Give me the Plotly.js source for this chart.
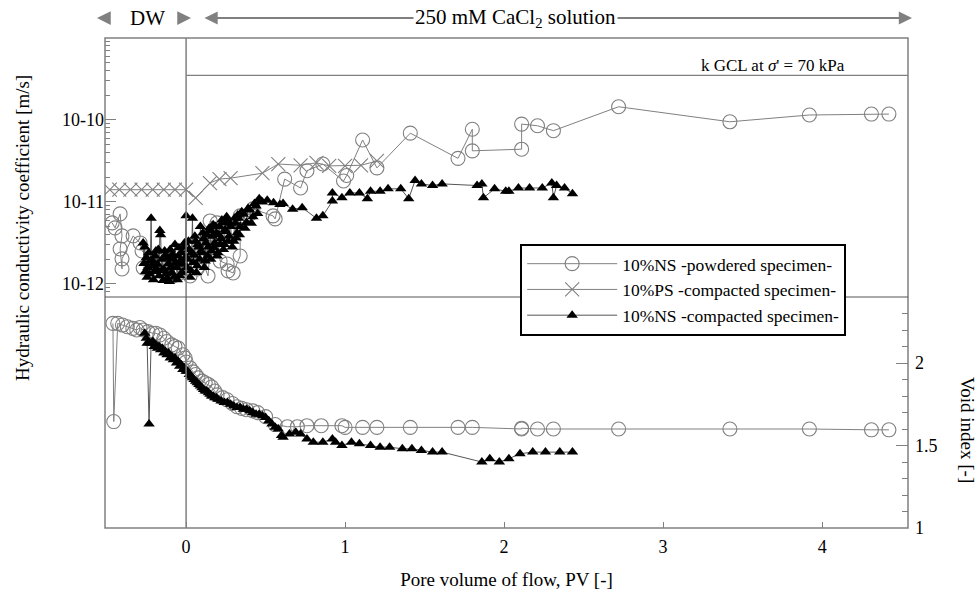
<!DOCTYPE html>
<html>
<head>
<meta charset="utf-8">
<script src="https://cdn.plot.ly/plotly-3.0.1.min.js"></script>
<style>html,body{margin:0;padding:0;background:#fff}#chart{width:979px;height:596px}</style>
</head>
<body>
<div id="chart"></div>
<script>
// ---- Data ----
const seriesNames = ["10%NS -powdered specimen-", "10%PS -compacted specimen-", "10%NS -compacted specimen-"];

// 10%NS powdered: hydraulic conductivity [m/s]
const nsPowK_x = [-0.465,-0.447,-0.415,-0.403,-0.415,-0.403,-0.403,-0.333,-0.289,-0.277,-0.226,-0.270,-0.208,-0.132,-0.082,-0.050,0.025,0.069,0.088,0.088,0.138,0.151,0.151,0.195,0.214,0.258,0.264,0.296,0.340,0.340,0.403,0.421,0.547,0.560,0.62,0.72,0.76,0.86,0.99,1.01,1.11,1.20,1.41,1.71,1.80,1.80,2.11,2.11,2.21,2.31,2.72,3.42,3.92,4.31,4.42];
const nsPowK_y = [5.55e-12,4.82e-12,7.14e-12,3.85e-12,2.67e-12,1.52e-12,2.02e-12,3.85e-12,3.16e-12,2.52e-12,2.02e-12,1.57e-12,1.66e-12,1.32e-12,1.25e-12,1.32e-12,1.25e-12,1.52e-12,1.90e-12,2.32e-12,1.25e-12,2.75e-12,5.86e-12,5.55e-12,1.90e-12,1.75e-12,1.44e-12,1.36e-12,2.19e-12,6.75e-12,7.14e-12,8.22e-12,6.75e-12,6.21e-12,1.9e-11,1.48e-11,2.4e-11,2.9e-11,1.8e-11,2.1e-11,5.7e-11,2.6e-11,6.9e-11,3.4e-11,7.7e-11,4.2e-11,4.4e-11,8.9e-11,8.5e-11,7.4e-11,1.45e-10,9.5e-11,1.15e-10,1.18e-10,1.18e-10];

// 10%PS compacted: hydraulic conductivity [m/s]
const psK_x = [-0.48,-0.42,-0.35,-0.28,-0.21,-0.14,-0.07,0.0,0.06,0.15,0.21,0.28,0.48,0.58,0.72,0.82,0.90,1.00,1.10,1.20];
const psK_y = [1.41e-11,1.41e-11,1.41e-11,1.41e-11,1.41e-11,1.41e-11,1.41e-11,1.41e-11,1.12e-11,1.7e-11,1.9e-11,1.95e-11,2.24e-11,2.9e-11,2.8e-11,3.0e-11,2.75e-11,2.75e-11,2.8e-11,3.16e-11];

// 10%NS compacted: hydraulic conductivity (log10 of m/s)
const nsComK_x = [-0.27,-0.265,-0.26,-0.255,-0.25,-0.245,-0.24,-0.235,-0.23,-0.225,-0.22,-0.215,-0.21,-0.205,-0.20,-0.195,-0.19,-0.185,-0.18,-0.175,-0.17,-0.165,-0.16,-0.155,-0.15,-0.145,-0.14,-0.135,-0.13,-0.125,-0.12,-0.115,-0.11,-0.105,-0.10,-0.095,-0.09,-0.085,-0.08,-0.075,-0.07,-0.065,-0.06,-0.055,-0.05,-0.045,-0.04,-0.035,-0.03,-0.025,-0.02,-0.015,-0.01,-0.005,0.00,0.005,0.01,0.015,0.02,0.025,0.03,0.035,0.04,0.045,0.05,0.055,0.06,0.065,0.07,0.075,0.08,0.085,0.09,0.095,0.10,0.105,0.11,0.115,0.12,0.125,0.13,0.135,0.14,0.145,0.15,0.155,0.16,0.165,0.17,0.175,0.18,0.185,0.19,0.195,0.20,0.205,0.21,0.215,0.22,0.225,0.23,0.235,0.24,0.245,0.25,0.255,0.26,0.265,0.27,0.275,0.28,0.29,0.30,0.305,0.31,0.315,0.32,0.325,0.33,0.335,0.34,0.35,0.36,0.37,0.38,0.39,0.40,0.41,0.42,0.43,0.44,0.45,0.46,0.47,0.48,0.51,0.55,0.59,0.61,0.67,0.73,0.82,0.86,0.92,0.92,0.98,1.03,1.09,1.14,1.16,1.22,1.27,1.35,1.40,1.44,1.48,1.55,1.61,1.83,1.86,1.87,1.94,2.01,2.03,2.09,2.16,2.24,2.30,2.31,2.33,2.38,2.43];
const nsComK_log = [-11.50,-11.75,-11.55,-11.85,-11.68,-11.92,-11.80,-11.62,-11.88,-11.72,-11.20,-11.78,-11.72,-11.95,-11.85,-11.66,-11.60,-11.82,-11.76,-11.58,-11.90,-11.35,-11.40,-11.84,-11.70,-11.96,-11.82,-11.60,-11.65,-11.88,-11.93,-11.68,-11.75,-11.97,-11.58,-11.80,-11.86,-11.64,-11.70,-11.92,-11.52,-11.74,-11.80,-11.95,-11.66,-11.56,-11.90,-11.72,-11.62,-11.86,-11.76,-11.55,-11.50,-11.68,-11.17,-11.80,-11.70,-11.48,-11.58,-11.92,-11.84,-11.62,-11.20,-11.74,-11.65,-11.42,-11.48,-11.86,-11.78,-11.52,-11.55,-11.70,-11.30,-11.60,-11.62,-11.38,-11.45,-11.80,-11.72,-11.50,-11.40,-11.66,-11.55,-11.32,-11.35,-11.70,-11.60,-11.42,-11.28,-11.56,-11.50,-11.30,-11.38,-11.66,-11.62,-11.40,-11.30,-11.52,-11.45,-11.22,-11.25,-11.58,-11.52,-11.34,-11.36,-11.18,-11.22,-11.48,-11.42,-11.26,-11.30,-11.55,-11.48,-11.20,-11.26,-11.44,-11.38,-11.16,-11.20,-11.40,-11.30,-11.12,-11.15,-11.32,-11.25,-11.08,-11.10,-11.26,-11.18,-11.02,-11.05,-11.14,-10.96,-10.99,-11.00,-10.98,-11.01,-11.03,-11.02,-11.09,-11.07,-11.20,-11.17,-10.99,-10.89,-10.95,-10.89,-10.89,-10.96,-10.87,-10.87,-10.84,-10.84,-10.96,-10.74,-10.78,-10.80,-10.78,-10.80,-10.78,-10.95,-10.84,-10.87,-10.87,-10.83,-10.83,-10.83,-10.77,-10.95,-10.80,-10.83,-10.90];

// Void index [-]
const nsPowE_x = [-0.46,-0.455,-0.43,-0.40,-0.37,-0.335,-0.31,-0.29,-0.27,-0.24,-0.21,-0.19,-0.165,-0.14,-0.12,-0.09,-0.07,-0.05,-0.02,-0.006,0.0,0.025,0.044,0.06,0.075,0.10,0.12,0.14,0.16,0.18,0.195,0.23,0.258,0.29,0.32,0.35,0.38,0.42,0.45,0.50,0.56,0.637,0.70,0.76,0.85,0.98,1.0,1.11,1.20,1.41,1.71,1.80,2.11,2.11,2.21,2.31,2.72,3.42,3.92,4.31,4.42];
const nsPowE_y = [2.24,1.645,2.24,2.23,2.22,2.21,2.20,2.215,2.20,2.19,2.18,2.18,2.17,2.15,2.13,2.11,2.10,2.09,2.05,2.03,2.006,1.97,1.946,1.93,1.91,1.89,1.88,1.87,1.855,1.83,1.807,1.79,1.777,1.755,1.735,1.725,1.717,1.71,1.699,1.675,1.627,1.614,1.614,1.62,1.62,1.62,1.61,1.61,1.61,1.61,1.61,1.61,1.60,1.605,1.60,1.60,1.60,1.60,1.60,1.595,1.595];

const nsComE_x = [-0.26,-0.25,-0.245,-0.233,-0.22,-0.21,-0.20,-0.19,-0.18,-0.17,-0.16,-0.15,-0.14,-0.13,-0.12,-0.11,-0.10,-0.09,-0.08,-0.07,-0.06,-0.05,-0.04,-0.03,-0.02,-0.01,0.0,0.01,0.02,0.03,0.04,0.05,0.06,0.07,0.08,0.09,0.10,0.11,0.12,0.13,0.14,0.15,0.16,0.17,0.18,0.19,0.20,0.22,0.24,0.26,0.28,0.30,0.32,0.34,0.36,0.38,0.40,0.42,0.44,0.46,0.48,0.50,0.52,0.54,0.56,0.58,0.60,0.61,0.65,0.69,0.72,0.76,0.80,0.86,0.92,0.94,0.98,1.04,1.09,1.16,1.22,1.28,1.36,1.42,1.48,1.55,1.61,1.86,1.91,1.97,2.03,2.10,2.18,2.26,2.35,2.43];
const nsComE_y = [2.18,2.15,2.12,1.63,2.12,2.13,2.10,2.11,2.09,2.10,2.08,2.09,2.06,2.07,2.05,2.06,2.03,2.04,2.02,2.03,2.00,2.01,1.98,1.99,1.96,1.97,1.95,1.95,1.93,1.92,1.91,1.90,1.89,1.88,1.87,1.86,1.85,1.84,1.83,1.83,1.82,1.81,1.80,1.80,1.79,1.79,1.78,1.77,1.76,1.76,1.75,1.74,1.73,1.73,1.72,1.72,1.71,1.70,1.69,1.69,1.68,1.67,1.65,1.63,1.61,1.60,1.56,1.55,1.57,1.58,1.57,1.54,1.52,1.52,1.54,1.52,1.50,1.52,1.51,1.50,1.49,1.49,1.48,1.48,1.47,1.46,1.46,1.40,1.42,1.40,1.42,1.45,1.46,1.46,1.46,1.46];

const kGCL = 3.5e-10;
const xTicks = [0,1,2,3,4];
const kTickVals = [1e-12,1e-11,1e-10];
const kTickText = ["10-12","10-11","10-10"];
const eTickVals = [1,1.5,2];
const eTickText = ["1","1.5","2"];

// ---- Chart ----
const serif = "Liberation Serif";
const grey = "#808080";
const circleMarker = {symbol:"circle-open", size:14, color:grey, line:{width:1.1, color:grey}};
const crossMarker = {symbol:"x-thin-open", size:14, color:grey, line:{width:1.1, color:grey}};
const triMarker = {symbol:"triangle-up", size:10, color:"#000"};

const nsComK_y = nsComK_log.map(v => Math.pow(10, v));

const traces = [
  {x:nsPowK_x, y:nsPowK_y, xaxis:"x", yaxis:"y", mode:"lines+markers", name:seriesNames[0], legendgroup:"a",
   line:{color:grey, width:1}, marker:circleMarker},
  {x:psK_x, y:psK_y, xaxis:"x", yaxis:"y", mode:"lines+markers", name:seriesNames[1], legendgroup:"b",
   line:{color:grey, width:1}, marker:crossMarker},
  {x:nsComK_x, y:nsComK_y, xaxis:"x", yaxis:"y", mode:"lines+markers", name:seriesNames[2], legendgroup:"c",
   line:{color:"#555", width:1}, marker:triMarker},
  {x:nsPowE_x, y:nsPowE_y, xaxis:"x", yaxis:"y2", mode:"lines+markers", name:seriesNames[0], legendgroup:"a", showlegend:false,
   line:{color:grey, width:1}, marker:circleMarker},
  {x:nsComE_x, y:nsComE_y, xaxis:"x", yaxis:"y2", mode:"lines+markers", name:seriesNames[2], legendgroup:"c", showlegend:false,
   line:{color:"#555", width:1}, marker:triMarker},
  {x:[0, 4.54], y:[kGCL, kGCL], xaxis:"x", yaxis:"y", mode:"lines", showlegend:false, hoverinfo:"skip",
   line:{color:grey, width:1.2}}
];

const minorK = [];
for (let d = -13; d <= -9; d++) for (let m = 2; m <= 9; m++) minorK.push(m * Math.pow(10, d));

const split = (528 - 297) / 490;

const layout = {
  width:979, height:596,
  margin:{l:105, r:71, t:38, b:68},
  paper_bgcolor:"#fff", plot_bgcolor:"#fff",
  font:{family:serif, size:16, color:"#000"},
  showlegend:true,
  legend:{x:0.517, y:0.58, xanchor:"left", yanchor:"top", bgcolor:"#fff", bordercolor:"#000", borderwidth:2,
          font:{family:serif, size:17.5, color:"#000"}, tracegroupgap:0, itemwidth:90},
  xaxis:{range:[-0.51, 4.54], anchor:"y2", tickvals:xTicks, ticktext:xTicks.map(String), ticks:"inside", ticklen:6,
         tickcolor:grey, showline:false, showgrid:false, zeroline:false, ticklabelstandoff:6,
         tickfont:{family:serif, size:18},
         title:{text:"Pore volume of flow, PV [-]", font:{family:serif, size:19}, standoff:16}},
  yaxis:{domain:[split, 1], type:"log", range:[-12.16, -9.0], anchor:"x", side:"left",
         tickvals:kTickVals, ticktext:kTickText, ticks:"inside", ticklen:11, tickcolor:grey,
         minor:{tickvals:minorK, ticks:"inside", ticklen:5, tickcolor:grey, showgrid:false},
         showgrid:false, zeroline:false, showline:false, tickfont:{family:serif, size:18}},
  yaxis2:{domain:[0, split], range:[1, 2.4], anchor:"x", side:"right",
          tickvals:eTickVals, ticktext:eTickText, ticks:"inside", ticklen:12, tickcolor:grey, ticklabelstandoff:6,
          minor:{dtick:0.1, ticks:"inside", ticklen:6, tickcolor:grey, showgrid:false},
          showgrid:false, zeroline:false, showline:false, tickfont:{family:serif, size:18}},
  shapes:[
    {type:"rect", xref:"paper", yref:"paper", x0:0, x1:1, y0:0, y1:1, line:{color:grey, width:1.5}},
    {type:"line", xref:"x", yref:"paper", x0:0, x1:0, y0:0, y1:1, line:{color:grey, width:1.5}},
    {type:"line", xref:"paper", yref:"paper", x0:0, x1:1, y0:split, y1:split, line:{color:"#555", width:1}}
  ],
  annotations:[
    {xref:"paper", yref:"paper", x:(22-105)/803, y:(528-228)/490, xanchor:"center", yanchor:"middle",
     text:"Hydraulic conductivity coefficient [m/s]", textangle:-90, showarrow:false, font:{family:serif, size:19}},
    {xref:"paper", yref:"paper", x:(968-105)/803, y:(528-430)/490, xanchor:"center", yanchor:"middle",
     text:"Void index [-]", textangle:90, showarrow:false, font:{family:serif, size:19}},
    {xref:"x", yref:"y", x:3.69, y:Math.log10(kGCL), xanchor:"center", yanchor:"bottom", text:"k GCL at <i>σ</i>' = 70 kPa",
     showarrow:false, font:{family:serif, size:17}, yshift:-2},
    // DW arrows
    {xref:"paper", yref:"paper", x:(97-105)/803, y:(528-18)/490, ax:10, ay:0, text:"", showarrow:true,
     arrowhead:2, arrowsize:1.1, arrowwidth:2.5, arrowcolor:grey},
    {xref:"paper", yref:"paper", x:(191-105)/803, y:(528-18)/490, ax:-10, ay:0, text:"", showarrow:true,
     arrowhead:2, arrowsize:1.1, arrowwidth:2.5, arrowcolor:grey},
    {xref:"paper", yref:"paper", x:(147-105)/803, y:(528-18)/490, xanchor:"center", yanchor:"middle",
     text:"DW", showarrow:false, font:{family:serif, size:21}},
    // CaCl2 arrow
    {xref:"paper", yref:"paper", x:(912-105)/803, y:(528-18)/490, ax:-(912-203), ay:0, text:"", showarrow:true,
     arrowside:"end+start", arrowhead:2, arrowsize:1.2, arrowwidth:2.2, arrowcolor:grey},
    {xref:"paper", yref:"paper", x:(515-105)/803, y:(528-18)/490, xanchor:"center", yanchor:"middle",
     text:"250 mM CaCl<sub>2</sub> solution", showarrow:false, bgcolor:"#fff", borderpad:1, font:{family:serif, size:21}}
  ]
};

Plotly.newPlot("chart", traces, layout, {displayModeBar:false, staticPlot:true});
</script>
</body>
</html>
